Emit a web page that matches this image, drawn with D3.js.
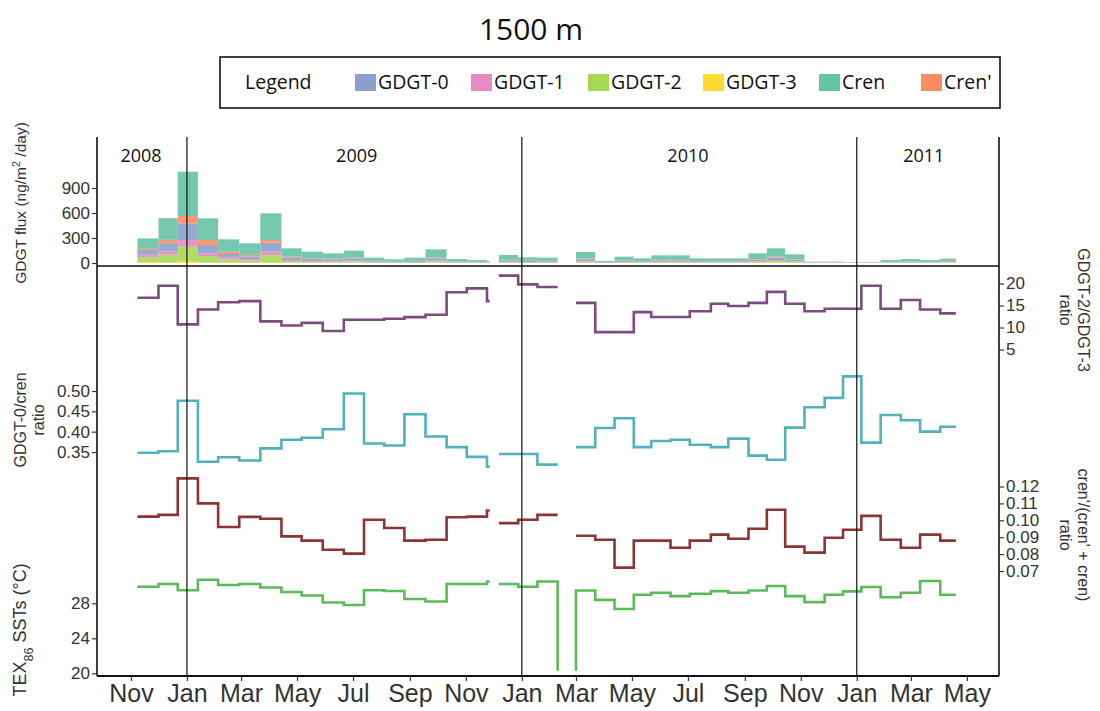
<!DOCTYPE html>
<html>
<head>
<meta charset="utf-8">
<script src="https://cdn.jsdelivr.net/npm/d3@7"></script>
<style>
  body { margin: 0; background: #fff; }
  svg { display: block; }
  .tick text { font-family: "Liberation Sans", Arial, sans-serif; fill: #333; }
</style>
</head>
<body>
<svg id="chart" width="1100" height="711"></svg>
<script>
// Sediment-trap sample boundaries (cup opening dates, plus end points and gap markers)
const sampleDates = [
  "2008-11-08","2008-12-01","2008-12-22","2009-01-13","2009-02-04","2009-02-27","2009-03-22",
  "2009-04-14","2009-05-06","2009-05-29","2009-06-21","2009-07-13","2009-08-04","2009-08-26",
  "2009-09-18","2009-10-11","2009-11-02","2009-11-24","2009-11-27",
  "2009-12-02",
  "2009-12-07","2009-12-28","2010-01-18","2010-02-09",
  "2010-02-20",
  "2010-03-01",
  "2010-03-01","2010-03-22","2010-04-12","2010-05-03","2010-05-22","2010-06-12","2010-07-03",
  "2010-07-26","2010-08-14","2010-09-05","2010-09-25","2010-10-15","2010-11-05","2010-11-27",
  "2010-12-17","2011-01-06","2011-01-27","2011-02-18","2011-03-11","2011-04-02","2011-04-19"
];

// GDGT fluxes (ng/m2/day) per sample
const fluxCren = [125,260,532,260,148,138,320,100,80,66,85,38,26,38,100,28,21,12, null,null,
  58,40,38, null,null,null,
  80,12,45,33,55,55,33,33,33,68,100,60,6,6,4,4,21,28,21,28, null];
const fluxCrenPrime = [15,40,88,60,28,20,32,10,8,6,7,4,3,3,8,3,2,1, null,null,
  5,4,4, null,null,null,
  7,1,4,3,5,5,3,3,3,7,10,6,1,1,1,1,2,3,2,4, null];
const fluxGdgt0 = [55,100,200,100,40,30,108,30,25,22,30,12,8,13,30,9,7,4, null,null,
  18,13,12, null,null,null,
  25,5,14,10,17,17,10,10,10,20,32,18,3,3,2,2,7,9,7,8, null];
const fluxGdgt1 = [30,40,80,32,24,20,40,12,8,7,8,3,2,3,8,2,2,1, null,null,
  5,3,3, null,null,null,
  6,2,4,3,5,5,3,3,3,6,10,6,2,2,1,1,2,2,2,3, null];
const fluxGdgt2 = [60,92,172,80,40,24,92,20,12,12,15,6,4,6,15,5,3,2, null,null,
  9,7,6, null,null,null,
  12,3,8,6,9,9,6,6,6,13,20,12,3,3,1,1,3,5,3,6, null];
const fluxGdgt3 = [10,6,24,4,4,4,4,4,3,3,3,1,1,1,3,1,1,0, null,null,
  1,1,1, null,null,null,
  2,1,1,1,1,1,1,1,1,2,4,2,1,1,1,1,1,1,1,3, null];

// Ratios and temperatures per sample
const gdgt23Ratio = [16.75,19.5,10.7,14.1,15.75,16.0,11.4,10.45,11.05,9.2,11.75,11.75,12.0,12.35,12.9,18.0,18.9,16.0,16.0, null,
  21.8,19.8,19.2,19.2, null, null,
  15.6,8.95,8.95,13.5,12.4,12.4,13.7,15.4,14.9,15.6,18.1,15.4,13.7,14.25,14.25,19.5,14.25,16.25,14.1,13.2,13.2];
const gdgt0CrenRatio = [0.348,0.352,0.476,0.326,0.337,0.329,0.359,0.380,0.385,0.406,0.494,0.371,0.366,0.443,0.388,0.362,0.338,0.314,0.314, null,
  0.345,0.345,0.319,0.319, null, null,
  0.362,0.409,0.433,0.362,0.377,0.380,0.368,0.362,0.383,0.341,0.331,0.410,0.460,0.483,0.536,0.373,0.441,0.428,0.400,0.412,0.412];
const crenPrimeRatio = [0.1022,0.1032,0.1248,0.110,0.096,0.102,0.1009,0.0905,0.088,0.0826,0.0803,0.1003,0.0954,0.088,0.0885,0.1018,0.1022,0.1058,0.1058, null,
  0.0983,0.1003,0.1032,0.1032, null, null,
  0.0909,0.0885,0.072,0.088,0.088,0.0838,0.088,0.0915,0.0891,0.095,0.1062,0.0844,0.0809,0.0897,0.0944,0.1026,0.0885,0.0838,0.0915,0.088,0.088];
const tex86Sst = [29.9,30.2,29.5,30.7,30.1,30.2,29.8,29.3,28.9,28.1,27.8,29.5,29.4,28.5,28.2,30.2,30.2,30.5,30.5, null,
  30.2,29.9,30.5,20.3, null, 20.3,
  29.47,28.39,27.35,28.97,29.2,28.82,29.09,29.39,29.2,29.47,29.98,28.82,28.13,28.97,29.36,29.86,28.7,29.2,30.55,28.97,28.97];

// Axis ticks and labels
const fluxTicks = [0, 300, 600, 900];
const gdgt23Ticks = [5, 10, 15, 20];
const gdgt0Ticks = [0.35, 0.40, 0.45, 0.50];
const crenPrimeTicks = [0.07, 0.08, 0.09, 0.10, 0.11, 0.12];
const sstTicks = [20, 24, 28];
const yearLines = ["2009-01-01", "2010-01-01", "2011-01-01"];
const yearLabels = [["2008","2008-11-12"],["2009","2009-07-05"],["2010","2010-07-01"],["2011","2011-03-15"]];
const legendKeys = ["GDGT-0","GDGT-1","GDGT-2","GDGT-3","Cren","Cren'"];
const legendColors = ["#8da0cb","#e78ac3","#a6d854","#ffd92f","#66c2a5","#fc8d62"];

const svg = d3.select("#chart");
const parseDate = d3.timeParse("%Y-%m-%d");
const L = 97, R = 999, T = 137, B = 676;
const sansAxis = '"Liberation Sans", Arial, sans-serif';
const sansText = '"Open Sans", "Noto Sans", sans-serif';

const x = d3.scaleTime().domain([parseDate("2008-09-25"), parseDate("2011-06-05")]).range([L, R]);
const yFlux = d3.scaleLinear().domain([0, 900]).range([263, 188]);
const y23 = d3.scaleLinear().domain([5, 20]).range([349.5, 283.5]);
const y0c = d3.scaleLinear().domain([0.35, 0.50]).range([452, 391]);
const yCp = d3.scaleLinear().domain([0.07, 0.12]).range([571, 486.5]);
const ySst = d3.scaleLinear().domain([20, 28]).range([673.3, 603.3]);

const dates = sampleDates.map(parseDate);
const colorOf = d3.scaleOrdinal().domain(legendKeys).range(legendColors);

// Stacked flux bars
const fluxByKey = {"GDGT-0": fluxGdgt0, "GDGT-1": fluxGdgt1, "GDGT-2": fluxGdgt2,
                   "GDGT-3": fluxGdgt3, "Cren": fluxCren, "Cren'": fluxCrenPrime};
const stackOrder = ["GDGT-3","GDGT-2","GDGT-1","GDGT-0","Cren'","Cren"];
const barRows = [];
for (let i = 0; i < dates.length - 1; i++) {
  if (fluxCren[i] == null) continue;
  const row = {x0: dates[i], x1: dates[i + 1]};
  stackOrder.forEach(k => row[k] = fluxByKey[k][i]);
  barRows.push(row);
}
const stacked = d3.stack().keys(stackOrder)(barRows);
svg.append("g").selectAll("g").data(stacked).join("g")
  .attr("fill", d => colorOf(d.key))
  .attr("fill-opacity", 0.9)
  .selectAll("rect").data(d => d).join("rect")
  .attr("x", d => x(d.data.x0))
  .attr("width", d => x(d.data.x1) - x(d.data.x0))
  .attr("y", d => yFlux(d[1]))
  .attr("height", d => yFlux(d[0]) - yFlux(d[1]));

// Step lines
function stepLine(values, yScale, color) {
  const pts = dates.map((d, i) => ({date: d, v: values[i]}));
  const line = d3.line()
    .defined(d => d.v != null)
    .x(d => x(d.date)).y(d => yScale(d.v))
    .curve(d3.curveStepAfter);
  svg.append("path").datum(pts)
    .attr("d", line).attr("fill", "none")
    .attr("stroke", color).attr("stroke-width", 2.6)
    .attr("stroke-linejoin", "miter");
}
stepLine(gdgt23Ratio, y23, "#7e4a82");
stepLine(gdgt0CrenRatio, y0c, "#4fb2bc");
stepLine(crenPrimeRatio, yCp, "#8c3434");
stepLine(tex86Sst, ySst, "#5bbb58");

// Year dividers
svg.append("g").selectAll("line").data(yearLines).join("line")
  .attr("x1", d => x(parseDate(d))).attr("x2", d => x(parseDate(d)))
  .attr("y1", T).attr("y2", B)
  .attr("stroke", "#111").attr("stroke-width", 1.2);

svg.append("g").selectAll("text").data(yearLabels).join("text")
  .attr("x", d => x(parseDate(d[1]))).attr("y", 162)
  .attr("text-anchor", "middle")
  .attr("font-family", sansText).attr("font-size", 18).attr("fill", "#111")
  .text(d => d[0]);

// Frame lines
svg.append("line").attr("x1", L).attr("x2", L).attr("y1", T).attr("y2", B).attr("stroke", "#111").attr("stroke-width", 1.6);
svg.append("line").attr("x1", R).attr("x2", R).attr("y1", T).attr("y2", B).attr("stroke", "#111").attr("stroke-width", 1.6);
svg.append("line").attr("x1", L).attr("x2", R).attr("y1", 266).attr("y2", 266).attr("stroke", "#111").attr("stroke-width", 1.6);
svg.append("line").attr("x1", L).attr("x2", R).attr("y1", B).attr("y2", B).attr("stroke", "#111").attr("stroke-width", 2.2);

// Axes
function styleAxis(g, size) {
  g.select(".domain").remove();
  g.selectAll(".tick line").attr("stroke", "#333").attr("stroke-width", 1.2);
  g.selectAll(".tick text").attr("font-size", size).attr("fill", "#333");
}
svg.append("g").attr("transform", `translate(${L},0)`)
  .call(d3.axisLeft(yFlux).tickValues(fluxTicks).tickSize(5).tickPadding(2))
  .call(g => styleAxis(g, 17));
svg.append("g").attr("transform", `translate(${L},0)`)
  .call(d3.axisLeft(y0c).tickValues(gdgt0Ticks).tickSize(5).tickPadding(2).tickFormat(d3.format(".2f")))
  .call(g => styleAxis(g, 17));
svg.append("g").attr("transform", `translate(${L},0)`)
  .call(d3.axisLeft(ySst).tickValues(sstTicks).tickSize(5).tickPadding(2))
  .call(g => styleAxis(g, 17));
svg.append("g").attr("transform", `translate(${R},0)`)
  .call(d3.axisRight(y23).tickValues(gdgt23Ticks).tickSize(5).tickPadding(2))
  .call(g => styleAxis(g, 17));
svg.append("g").attr("transform", `translate(${R},0)`)
  .call(d3.axisRight(yCp).tickValues(crenPrimeTicks).tickSize(5).tickPadding(2).tickFormat(d3.format(".2f")))
  .call(g => styleAxis(g, 17));

const monthTicks = d3.timeMonths(parseDate("2008-11-01"), parseDate("2011-05-02"), 2);
svg.append("g").attr("transform", `translate(0,${B})`)
  .call(d3.axisBottom(x).tickValues(monthTicks).tickSize(5).tickPadding(3).tickFormat(d3.timeFormat("%b")))
  .call(g => { g.select(".domain").remove();
    g.selectAll(".tick line").attr("stroke", "#333").attr("stroke-width", 1.2);
    g.selectAll(".tick text").attr("font-size", 25).attr("fill", "#222"); });

// Axis titles
function vTitle(lines, cx, cy, rot, size) {
  const t = svg.append("text")
    .attr("transform", `translate(${cx},${cy}) rotate(${rot})`)
    .attr("text-anchor", "middle")
    .attr("font-family", sansAxis).attr("font-size", size).attr("fill", "#333");
  lines.forEach((ln, i) => {
    const ts = t.append("tspan").attr("x", 0).attr("dy", i === 0 ? 0 : 18);
    ln.forEach(part => {
      const p = ts.append("tspan").text(part.t);
      if (part.sup) p.attr("baseline-shift", "super").attr("font-size", size * 0.7);
      if (part.sub) p.attr("baseline-shift", "sub").attr("font-size", size * 0.7);
    });
  });
}
vTitle([[{t:"GDGT flux (ng/m"},{t:"2",sup:true},{t:" /day)"}]], 26, 203, -90, 15.5);
vTitle([[{t:"GDGT-0/cren"}],[{t:"ratio"}]], 26, 420, -90, 16);
vTitle([[{t:"TEX"},{t:"86",sub:true},{t:" SSTs (°C)"}]], 26, 630, -90, 18);
vTitle([[{t:"GDGT-2/GDGT-3"}],[{t:"ratio"}]], 1078, 310, 90, 16);
vTitle([[{t:"cren'/(cren' + cren)"}],[{t:"ratio"}]], 1078, 535, 90, 16);

// Title
svg.append("text").attr("x", 531).attr("y", 40).attr("text-anchor", "middle")
  .attr("font-family", sansText).attr("font-size", 30).attr("fill", "#111").text("1500 m");

// Legend
const lg = svg.append("g");
lg.append("rect").attr("x", 220).attr("y", 57).attr("width", 780).attr("height", 51)
  .attr("fill", "#fff").attr("stroke", "#111").attr("stroke-width", 1.6);
lg.append("text").attr("x", 245).attr("y", 89).attr("font-family", sansText)
  .attr("font-size", 19.5).attr("fill", "#111").text("Legend");
const legendX = [355, 471, 588, 703, 819, 921];
const items = lg.selectAll("g.item").data(legendKeys).join("g").attr("class", "item")
  .attr("transform", (d, i) => `translate(${legendX[i]},0)`);
items.append("rect").attr("x", 0).attr("y", 74).attr("width", 21).attr("height", 17)
  .attr("fill", d => colorOf(d));
items.append("text").attr("x", 23).attr("y", 89).attr("font-family", sansText)
  .attr("font-size", 19.5).attr("fill", "#111").text(d => d);
</script>
</body>
</html>
